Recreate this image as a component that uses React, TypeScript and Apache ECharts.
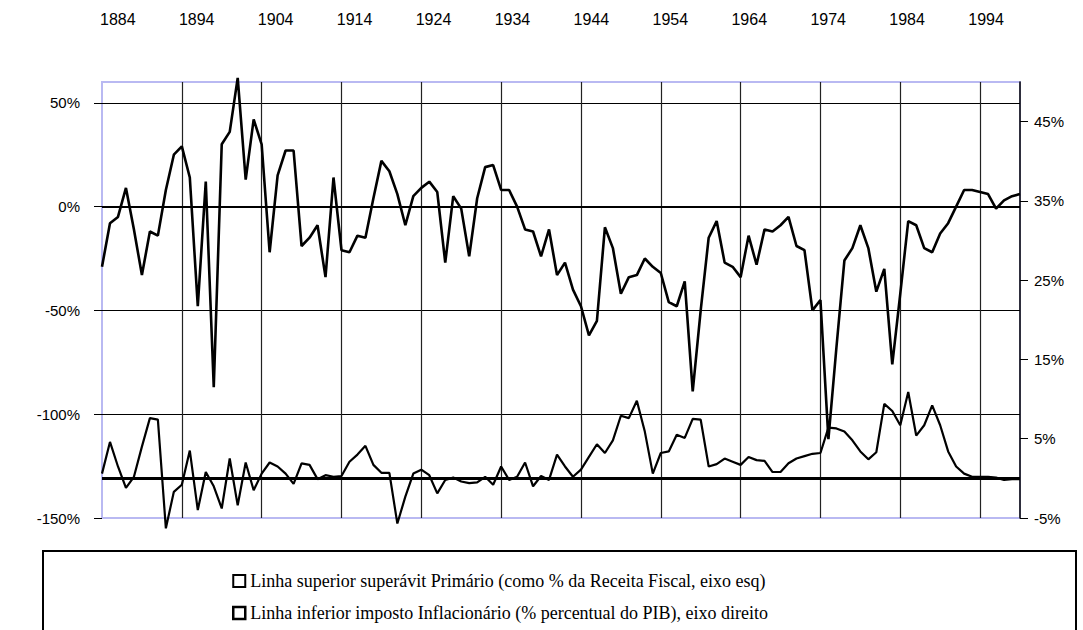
import React, { useEffect, useRef } from 'react';
import * as echarts from 'echarts';

const firstYear = 1882;

// Superávit primário (% da receita fiscal), eixo esquerdo, 1882–1997
const superavitPrimario = [
  -29, -8, -5, 9, -11, -33, -12, -14, 8, 25,
  29, 14, -48, 12, -87, 30, 36, 62, 13, 42,
  30, -22, 15, 27, 27, -19, -15, -9, -34, 14,
  -21, -22, -14, -15, 4, 22, 17, 6, -9, 5,
  9, 12, 7, -27, 5, -1, -24, 4, 19, 20,
  8, 8, 0, -11, -12, -24, -11, -33, -27, -40,
  -48, -62, -55, -10, -20, -42, -34, -33, -25, -29,
  -32, -46, -48, -36, -89, -50, -15, -7, -27, -29,
  -34, -14, -28, -11, -12, -9, -5, -19, -21, -50,
  -45, -112, -68, -26, -20, -9, -20, -41, -30, -76,
  -42, -7, -9, -20, -22, -13, -8, 0, 8, 8,
  7, 6, -1, 3, 5, 6,
];

// Imposto inflacionário (% do PIB), eixo direito, 1882–1997
const impostoInflacionario = [
  0.6, 4.6, 1.5, -1.2, 0.2, 4, 7.6, 7.4, -6.3, -1.7,
  -0.8, 3.5, -4, 0.8, -1, -3.8, 2.5, -3.4, 2, -1.5,
  0.6, 2, 1.5, 0.6, -0.7, 1.9, 1.7, -0.1, 0.4, 0.2,
  0.3, 2.1, 3, 4.1, 1.7, 0.7, 0.7, -5.7, -2.3, 0.6,
  1.1, 0.4, -1.9, -0.2, 0.1, -0.4, -0.6, -0.5, 0.2, -0.8,
  1.5, -0.2, 0.2, 2, -1, 0.3, -0.2, 3, 1.5, 0.2,
  1.1, 2.7, 4.3, 3.2, 4.8, 7.9, 7.6, 9.8, 5.9, 0.6,
  3.2, 3.4, 5.5, 5.1, 7.5, 7.4, 1.5, 1.8, 2.5, 2.1,
  1.7, 2.7, 2.3, 2.2, 0.8, 0.8, 1.9, 2.5, 2.8, 3.1,
  3.2, 6.4, 6.3, 5.9, 4.8, 3.4, 2.4, 3.3, 9.4, 8.5,
  6.7, 10.9, 5.4, 6.7, 9.2, 6.7, 3.4, 1.5, 0.6, 0.2,
  0.2, 0.2, 0.1, -0.2, -0.1, -0.1,
];

const yearLabels = [1884, 1894, 1904, 1914, 1924, 1934, 1944, 1954, 1964, 1974, 1984, 1994];
const decadeLines = [1892, 1902, 1912, 1922, 1932, 1942, 1952, 1962, 1972, 1982, 1992];
const leftTicks = [-150, -100, -50, 0, 50];
const rightTicks = [-5, 5, 15, 25, 35, 45];

const nameSuperior = 'Linha superior superávit Primário (como % da Receita Fiscal, eixo esq)';
const nameInferior = 'Linha inferior imposto Inflacionário (% percentual do PIB), eixo direito';

export default function App() {
  const ref = useRef<HTMLDivElement>(null);

  useEffect(() => {
    if (!ref.current) return;
    const chart = echarts.init(ref.current, null, { renderer: 'svg' });
    const years = superavitPrimario.map((_, i) => firstYear + i);
    const sans = 'Liberation Sans';
    const serif = "'Liberation Serif', 'Times New Roman', serif";

    chart.setOption({
      animation: false,
      backgroundColor: '#ffffff',
      grid: {
        left: 102,
        right: 63,
        top: 82,
        bottom: 112,
        show: true,
        borderColor: '#b9b9f2',
        borderWidth: 2,
        backgroundColor: '#ffffff',
      },
      xAxis: [
        {
          type: 'value',
          position: 'bottom',
          min: 1882,
          max: 1997,
          axisLine: { show: false },
          axisTick: { show: false, customValues: decadeLines },
          axisLabel: { show: false },
          splitLine: { show: true, lineStyle: { color: '#222', width: 1.2 } },
        },
        {
          type: 'value',
          position: 'top',
          min: 1882,
          max: 1998.3,
          axisLine: { show: false },
          axisTick: { show: false },
          splitLine: { show: false },
          axisLabel: {
            show: true,
            customValues: yearLabels,
            formatter: (v: number) => String(v),
            margin: 55,
            fontFamily: sans,
            fontSize: 16,
            color: '#000',
          },
        },
      ],
      yAxis: [
        {
          type: 'value',
          position: 'left',
          min: -150,
          max: 60,
          axisLine: { show: false },
          axisTick: { show: true, customValues: leftTicks, length: 8, inside: false, lineStyle: { color: '#000' } },
          axisLabel: {
            customValues: leftTicks,
            formatter: (v: number) => v + '%',
            margin: 22,
            fontFamily: sans,
            fontSize: 15,
            color: '#000',
          },
          splitLine: { show: true, showMinLine: false, lineStyle: { color: '#000', width: 1.2 } },
        },
        {
          type: 'value',
          position: 'right',
          min: -5,
          max: 50,
          axisLine: { show: true, lineStyle: { color: '#000', width: 1.5 } },
          axisTick: { show: true, customValues: rightTicks, length: 8, inside: false, lineStyle: { color: '#000' } },
          axisLabel: {
            customValues: rightTicks,
            formatter: (v: number) => v + '%',
            margin: 14,
            fontFamily: sans,
            fontSize: 15,
            color: '#000',
          },
          splitLine: { show: false },
        },
      ],
      legend: {
        orient: 'vertical',
        left: 227,
        top: 567,
        itemWidth: 12,
        itemHeight: 12,
        itemGap: 14,
        icon: 'rect',
        selectedMode: false,
        textStyle: { fontFamily: serif, fontSize: 18, color: '#000' },
        data: [
          { name: nameSuperior, itemStyle: { color: '#fff', borderColor: '#000', borderWidth: 2 } },
          { name: nameInferior, itemStyle: { color: '#fff', borderColor: '#000', borderWidth: 2.5 } },
        ],
      },
      graphic: [
        {
          type: 'rect',
          shape: { x: 43, y: 551, width: 1033, height: 120 },
          style: { fill: 'none', stroke: '#000', lineWidth: 2 },
          silent: true,
        },
      ],
      series: [
        {
          name: nameSuperior,
          type: 'line',
          xAxisIndex: 0,
          yAxisIndex: 0,
          data: years.map((y, i) => [y, superavitPrimario[i]]),
          symbol: 'none',
          clip: false,
          lineStyle: { color: '#000', width: 2.6 },
          itemStyle: { color: '#000' },
          z: 5,
          markLine: {
            silent: true,
            symbol: ['none', 'none'],
            label: { show: false },
            lineStyle: { color: '#000', width: 2, type: 'solid' },
            data: [{ yAxis: 0 }],
          },
        },
        {
          name: nameInferior,
          type: 'line',
          xAxisIndex: 0,
          yAxisIndex: 1,
          data: years.map((y, i) => [y, impostoInflacionario[i]]),
          symbol: 'none',
          clip: false,
          lineStyle: { color: '#000', width: 2.2 },
          itemStyle: { color: '#000' },
          z: 5,
          markLine: {
            silent: true,
            symbol: ['none', 'none'],
            label: { show: false },
            lineStyle: { color: '#000', width: 3, type: 'solid' },
            data: [{ yAxis: 0 }],
          },
        },
      ],
    });

    return () => chart.dispose();
  }, []);

  return (
    <div
      ref={ref}
      style={{ position: 'fixed', left: 0, top: 0, width: 1083, height: 630, background: '#fff' }}
    />
  );
}
